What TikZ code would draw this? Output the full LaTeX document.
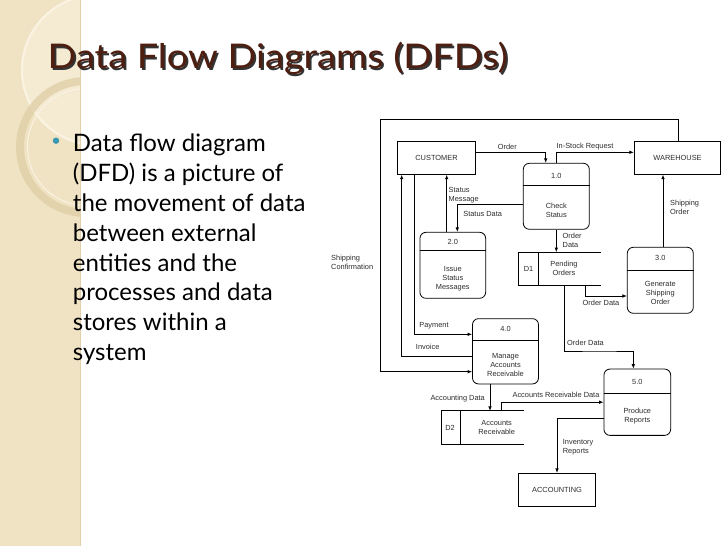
\documentclass[tikz,border=0pt]{standalone}
\usepackage{fontspec}
\setmainfont{Lato}
\newfontfamily\dfd{Liberation Sans}
\usetikzlibrary{arrows.meta,calc}
\definecolor{panel}{RGB}{240,227,196}
\definecolor{circA}{RGB}{250,243,226}
\definecolor{circB}{RGB}{224,207,168}
\definecolor{titlebrown}{RGB}{78,30,16}
\definecolor{bullet}{RGB}{58,152,178}
\definecolor{txt}{RGB}{45,45,45}
\newcommand{\shadowtext}[1]{\makebox[0pt][l]{\hspace{1.6pt}\raisebox{-1.6pt}{\color{black!80}#1}}#1}
\begin{document}
\begin{tikzpicture}[x=1pt,y=-1pt,
  ent/.style={draw, rectangle, line width=0.8pt, inner sep=0pt, text=txt, font=\dfd\fontsize{7.4}{9}\selectfont},
  proc/.style={draw, rectangle, rounded corners=6pt, line width=0.8pt, inner sep=0pt},
  store/.style={inner sep=0pt},
  ptxt/.style={inner sep=0pt, align=center, text=txt, font=\dfd\fontsize{7.4}{9}\selectfont},
  lbl/.style={inner sep=0pt, align=left, text=txt, font=\dfd\fontsize{7.4}{9}\selectfont},
  flow/.style={line width=0.8pt, -{Latex[length=4.5pt,width=3.6pt]}},
  divider/.style={line width=0.8pt}]
% page
\fill[white] (0,0) rectangle (728,546);
\useasboundingbox (0,0) rectangle (728,546);
% left decorative panel
\fill[panel] (0,0) rectangle (80,546);
\begin{scope}
  \clip (0,0) rectangle (80,546);
  \fill[circA, opacity=0.5] (97,70) circle (75);
  \draw[circA, line width=2.2pt] (97,70) circle (75);
  \draw[circB, line width=8pt, opacity=0.8] (86,147) circle (66);
  \draw[circA, line width=1pt] (86,147) circle (58.5);
\end{scope}
\draw[circB, line width=0.6pt] (80,0) -- (80,546);
% title (with its drop shadow)
\node[anchor=base west, inner sep=0pt, text=titlebrown, font=\fontsize{34}{34}\selectfont] (title) at (47.5,68.7)
  {\scalebox{1.115}[1]{\shadowtext{Data Flow Diagrams (DFDs)}}};
% bullet text
\fill[bullet] (56,140.7) circle (3.2);
\node[anchor=north west, inner sep=0pt, align=left, font=\fontsize{24}{29.8}\selectfont] (body) at (72.7,134)
  {Data flow diagram\\(DFD) is a picture of\\the movement of data\\between external\\entities and the\\processes and data\\stores within a\\system};

% ---------------- diagram ----------------
% external entities
\node[ent, minimum width=78.4pt, minimum height=32.6pt] (cust) at (436.5,158) {CUSTOMER};
\node[ent, minimum width=86.4pt, minimum height=32.6pt] (wh) at (677.5,158) {WAREHOUSE\hspace{10pt}};
\node[ent, minimum width=77.4pt, minimum height=33.4pt] (acct) at (557,490) {ACCOUNTING};

% processes
\node[proc, minimum width=66pt, minimum height=66pt] (p1) at (556.3,196.3) {};
\draw[divider] (p1.west |- 0,185.3) -- (p1.east |- 0,185.3);
\node[ptxt] (p1n) at (556.3,175.5) {1.0};
\node[ptxt] (p1t) at (556.3,210) {Check\\Status};

\node[proc, minimum width=65.7pt, minimum height=66pt] (p2) at (452.8,265.3) {};
\draw[divider] (p2.west |- 0,250.7) -- (p2.east |- 0,250.7);
\node[ptxt] (p2n) at (452.8,241.5) {2.0};
\node[ptxt] (p2t) at (452.8,278.5) {Issue\\Status\\Messages};

\node[proc, minimum width=66pt, minimum height=66pt] (p3) at (660.3,280.3) {};
\draw[divider] (p3.west |- 0,270) -- (p3.east |- 0,270);
\node[ptxt] (p3n) at (660.3,257.5) {3.0};
\node[ptxt] (p3t) at (660.3,293.3) {Generate\\Shipping\\Order};

\node[proc, minimum width=66pt, minimum height=65.3pt] (p4) at (505.5,351.3) {};
\draw[divider] (p4.west |- 0,340.3) -- (p4.east |- 0,340.3);
\node[ptxt] (p4n) at (505.5,328.5) {4.0};
\node[ptxt] (p4t) at (505.5,365) {Manage\\Accounts\\Receivable};

\node[proc, minimum width=66.7pt, minimum height=66.3pt] (p5) at (637.3,402.2) {};
\draw[divider] (p5.west |- 0,393.3) -- (p5.east |- 0,393.3);
\node[ptxt] (p5n) at (637.3,381.5) {5.0};
\node[ptxt] (p5t) at (637.3,416.2) {Produce\\Reports};

% data stores
\node[store, minimum width=82pt, minimum height=33pt] (d1) at (560,268.8) {};
\draw[line width=0.8pt] (d1.north east) -- (d1.north west) -- (d1.south west) -- (d1.south east);
\draw[line width=0.8pt] ([xshift=19.3pt]d1.north west) -- ([xshift=19.3pt]d1.south west);
\node[ptxt] (d1n) at (528.6,268.5) {D1};
\node[ptxt] (d1t) at (564,268) {Pending\\Orders};

\node[store, minimum width=82pt, minimum height=33.3pt] (d2) at (482.3,427.7) {};
\draw[line width=0.8pt] (d2.north east) -- (d2.north west) -- (d2.south west) -- (d2.south east);
\draw[line width=0.8pt] ([xshift=19pt]d2.north west) -- ([xshift=19pt]d2.south west);
\node[ptxt] (d2n) at (450,427.7) {D2};
\node[ptxt] (d2t) at (496.7,427.2) {Accounts\\Receivable};

% connectors
\coordinate (ftl) at (380,119.3);
\coordinate (od5) at (600,351);
\draw[flow] ([yshift=5.7pt]cust.east) -| ([xshift=-10.6pt]p1.north);
\draw[flow] (p1.north) |- ([yshift=5.7pt]wh.west);
\draw[flow] ([xshift=-6.1pt]p2.north) -- ([xshift=-6.1pt]p2.north |- cust.south);
\draw[flow] ([yshift=-7.7pt]p1.west) -| ([xshift=4.5pt]p2.north);
\draw[flow] ([xshift=2.7pt]p3.north) -- ([xshift=2.7pt]p3.north |- wh.south);
\draw[flow] (p1.south) -- (p1.south |- d1.north);
\draw[flow] ([xshift=25.7pt]d1.south) |- ([yshift=-15.7pt]p3.west);
\draw[flow] ([xshift=4pt]d1.south) |- (od5) -| ([xshift=-4pt]p5.north);
\draw[flow] ([xshift=-22.5pt]cust.south) |- ([yshift=17pt]p4.west);
\draw[flow] ([yshift=-4.7pt]p4.west) -| ([xshift=-34.8pt]cust.south);
\draw[flow] ([xshift=1.2pt]wh.north) |- (ftl) |- ([yshift=-20.4pt]p4.west);
\draw[flow] ([xshift=-15.5pt]p4.south) -- ([xshift=-15.5pt]p4.south |- d2.north);
\draw[flow] ([xshift=19.4pt]d2.north) |- (p5.west);
\draw[flow] ([yshift=-16.1pt]p5.west) -| (acct.north);

% flow labels
\node[lbl] (lorder) at (507.3,146.7) {Order};
\node[lbl] (lisr) at (585,146.7) {In-Stock Request};
\node[lbl, anchor=west] (lsm) at (448.5,195.5) {Status\\Message};
\node[lbl] (lsd) at (482.7,214.3) {Status Data};
\node[lbl, anchor=west] (lso) at (670,207.2) {Shipping\\Order};
\node[lbl, anchor=west] (lod1) at (562.5,240.5) {Order\\Data};
\node[lbl, anchor=west] (lsc) at (331,262) {Shipping\\Confirmation};
\node[lbl] (lod3) at (601,303.3) {Order Data};
\node[lbl] (lod5) at (585.5,342.7) {Order Data};
\node[lbl] (lpay) at (434,325.7) {Payment};
\node[lbl] (linv) at (427.7,347.3) {Invoice};
\node[lbl] (lacd) at (457.7,398.3) {Accounting Data};
\node[lbl] (lard) at (556,395) {Accounts Receivable Data};
\node[lbl, anchor=west] (lir) at (562.7,447.2) {Inventory\\Reports};
\end{tikzpicture}
\end{document}
